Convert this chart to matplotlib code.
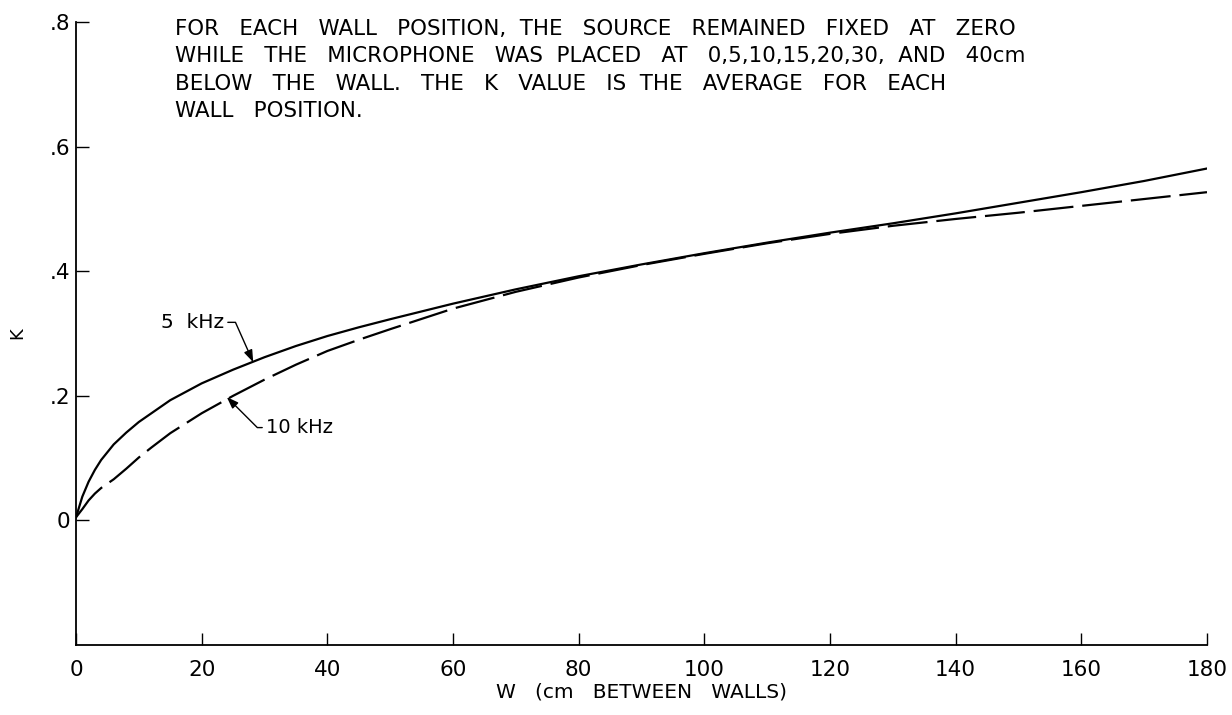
import matplotlib
matplotlib.use('Agg')
import matplotlib.pyplot as plt

# W (cm between walls) and the K values
w = [0, 1, 2, 3, 4, 6, 8, 10, 12, 15, 20, 25, 30, 35, 40, 45, 50, 60, 70,
     80, 90, 100, 110, 120, 130, 140, 150, 160, 170, 180]
k_5khz = [0.005, 0.038, 0.062, 0.081, 0.097, 0.122, 0.141, 0.158, 0.172,
          0.193, 0.220, 0.242, 0.262, 0.280, 0.296, 0.310, 0.323, 0.348,
          0.371, 0.392, 0.411, 0.429, 0.446, 0.462, 0.477, 0.493, 0.510,
          0.527, 0.545, 0.565]
k_10khz = [0.005, 0.018, 0.032, 0.043, 0.052, 0.066, 0.083, 0.101, 0.117,
           0.140, 0.172, 0.200, 0.226, 0.250, 0.272, 0.290, 0.307, 0.340,
           0.367, 0.390, 0.410, 0.428, 0.445, 0.460, 0.473, 0.484, 0.494,
           0.505, 0.516, 0.527]

x_ticks = [0, 20, 40, 60, 80, 100, 120, 140, 160, 180]
x_labels = ['0', '20', '40', '60', '80', '100', '120', '140', '160', '180']
y_ticks = [0, 0.2, 0.4, 0.6, 0.8]
y_labels = ['0', '.2', '.4', '.6', '.8']

note = ("FOR   EACH   WALL   POSITION,  THE   SOURCE   REMAINED   FIXED   AT   ZERO\n"
        "WHILE   THE   MICROPHONE   WAS  PLACED   AT   0,5,10,15,20,30,  AND   40cm\n"
        "BELOW   THE   WALL.   THE   K   VALUE   IS  THE   AVERAGE   FOR   EACH\n"
        "WALL   POSITION.")

plt.rcParams['font.family'] = ['DejaVu Sans']

fig = plt.figure(figsize=(12.32, 7.15), dpi=100)
ax = fig.add_axes([0.0617, 0.098, 0.918, 0.871])

ax.plot(w, k_5khz, color='black', lw=1.6)
ax.plot(w, k_10khz, color='black', lw=1.6, dashes=(18, 4))

ax.set_xlim(0, 180)
ax.set_ylim(-0.2, 0.8)
ax.set_xticks(x_ticks)
ax.set_xticklabels(x_labels)
ax.set_yticks(y_ticks)
ax.set_yticklabels(y_labels)
ax.tick_params(axis='both', direction='in', length=9, width=1.0, labelsize=15.5)
ax.tick_params(axis='x', pad=11)
ax.tick_params(axis='y', pad=4)

for side in ['top', 'right']:
    ax.spines[side].set_visible(False)
for side in ['left', 'bottom']:
    ax.spines[side].set_linewidth(1.3)

ax.set_xlabel('W   (cm   BETWEEN   WALLS)', fontsize=14.5, labelpad=2)
ax.set_ylabel('K', fontsize=13, labelpad=17)

arrow = dict(arrowstyle='-|>,head_length=0.5,head_width=0.18', color='black',
             lw=1.0, shrinkA=1, shrinkB=0)
ax.annotate('5  kHz', xy=(28.2, 0.254), xytext=(23.5, 0.318),
            ha='right', va='center', fontsize=14.5,
            arrowprops=dict(arrow, relpos=(1, 0.5),
                            connectionstyle='angle,angleA=0,angleB=114,rad=0'))
ax.annotate('10 kHz', xy=(24.0, 0.198), xytext=(30.3, 0.149),
            ha='left', va='center', fontsize=14,
            arrowprops=dict(arrow, relpos=(0, 0.5),
                            connectionstyle='angle,angleA=0,angleB=135,rad=0'))

fig.text(175 / 1232, 1 - 19 / 715, note, ha='left', va='top',
         fontsize=15.4, linespacing=1.46)

fig.savefig('out.png', dpi=100)
